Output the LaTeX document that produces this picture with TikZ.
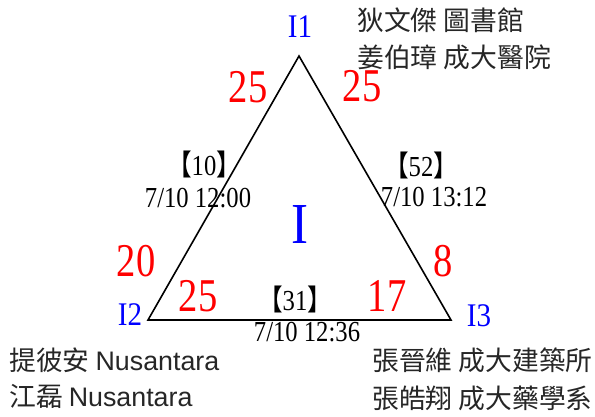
\documentclass[tikz,border=0pt]{standalone}
\usepackage{fontspec}
\setmainfont{Liberation Serif}
\newfontfamily\cjk{Noto Sans CJK TC}
\newfontfamily\sansf{Liberation Sans}
\newcommand{\narr}[2]{\scalebox{#1}[1]{#2}}
\tikzset{
  edge/.style={line width=1.6pt, line join=miter},
  vlabel/.style={inner sep=0pt, text=blue, font=\fontsize{33}{33}\selectfont},
  wnum/.style={inner sep=0pt, text=red, font=\fontsize{47}{47}\selectfont},
  gnum/.style={inner sep=0pt, text=black, font=\fontsize{29}{29}\selectfont},
  names/.style={inner sep=0pt, anchor=west, text=black!85, font=\fontsize{26.8}{26.8}\cjk},
}
\begin{document}
\begin{tikzpicture}[x=1pt,y=-1pt]
\useasboundingbox (0,0) rectangle (595,417);
\coordinate (A) at (299,56);
\coordinate (B) at (148,320);
\coordinate (C) at (451,320);
\draw[edge] (A) -- (B) -- (C) -- cycle;
% vertex labels
\node[vlabel] (l1) at (300,27) {\narr{0.88}{I1}};
\node[vlabel] (l2) at (130,315) {\narr{0.88}{I2}};
\node[vlabel] (l3) at (479,316) {\narr{0.88}{I3}};
\node[inner sep=0pt, text=blue, font=\fontsize{58}{58}\selectfont] (ctr) at (300,225) {\narr{0.88}{I}};
% red numbers
\node[wnum] (n1) at (248,87) {\narr{0.82}{25}};
\node[wnum] (n2) at (362,86) {\narr{0.82}{25}};
\node[wnum] (n3) at (136,261) {\narr{0.82}{20}};
\node[wnum] (n4) at (198,296) {\narr{0.82}{25}};
\node[wnum] (n5) at (387,296) {\narr{0.82}{17}};
\node[wnum] (n6) at (443,261) {\narr{0.82}{8}};
% game labels
\node[gnum] (g1) at (204,164) {\narr{0.85}{{\cjk 【}10{\cjk 】}}};
\node[gnum] (t1) at (198,198) {\narr{0.85}{7/10 12:00}};
\node[gnum] (g2) at (421,165) {\narr{0.85}{{\cjk 【}52{\cjk 】}}};
\node[gnum] (t2) at (434,197) {\narr{0.85}{7/10 13:12}};
\node[gnum] (g3) at (295,299) {\narr{0.85}{{\cjk 【}31{\cjk 】}}};
\node[gnum] (t3) at (307,332) {\narr{0.85}{7/10 12:36}};
% names
\node[names] (p1) at (357,20) {狄文傑 圖書館};
\node[names] (p2) at (357,57) {姜伯璋 成大醫院};
\node[names] (p3) at (9,360) {提彼安 {\sansf Nusantara}};
\node[names] (p4) at (9,396) {江磊 {\sansf Nusantara}};
\node[names] (p5) at (372,360) {張晉維 成大建築所};
\node[names] (p6) at (372,398) {張皓翔 成大藥學系};
\end{tikzpicture}
\end{document}
